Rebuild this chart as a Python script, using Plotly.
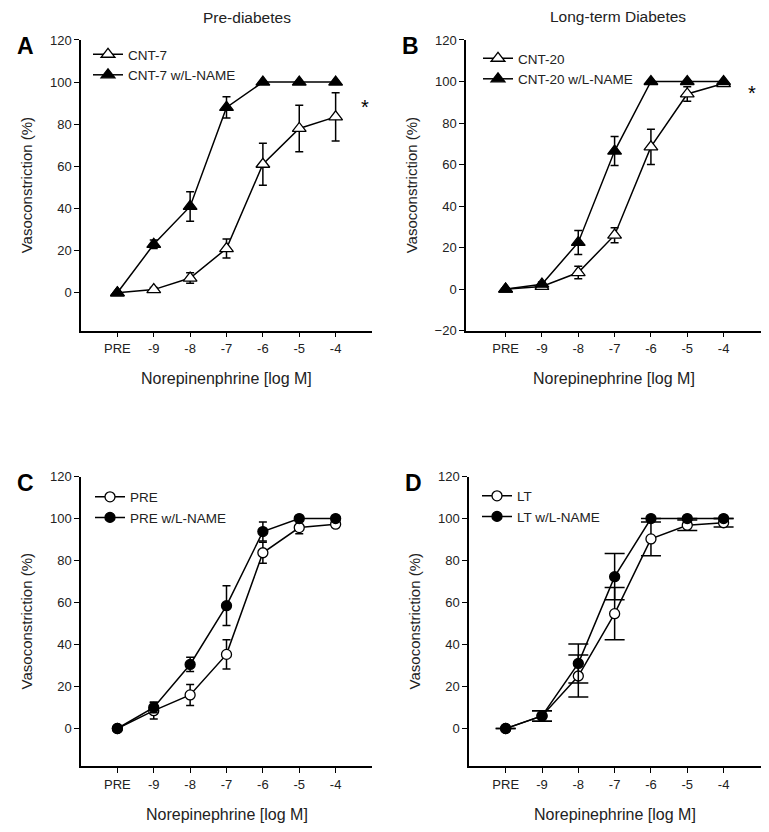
import plotly.graph_objects as go

conc = ["PRE", "-9", "-8", "-7", "-6", "-5", "-4"]

# A: pre-diabetes (CNT-7)
cnt7 = [0, 1.5, 7, 21, 61, 78, 83.5]
cnt7_err = [0, 1, 2.5, 4.5, 10, 11, 11.5]
cnt7_lname = [0, 23, 41, 88, 100, 100, 100]
cnt7_lname_err = [0, 2, 7, 5, 0, 0, 0]

# B: long-term diabetes (CNT-20)
cnt20 = [0, 1.3, 8, 26, 68.5, 94, 99]
cnt20_err = [0, 1, 3, 3.6, 8.5, 3.5, 1]
cnt20_lname = [0, 2.4, 22.5, 66.5, 100, 100, 100]
cnt20_lname_err = [0, 1, 5.8, 7, 0, 0, 0]

# C: PRE
pre = [0, 8.5, 16, 35.3, 83.7, 95.7, 97.3]
pre_err = [0, 4, 5, 7, 5, 3, 1.5]
pre_lname = [0, 10, 30.5, 58.5, 93.8, 100, 100]
pre_lname_err = [0, 2.5, 3.4, 9.5, 4.5, 0, 0]

# D: LT
lt = [0, 6, 25, 54.7, 90.3, 96.8, 98]
lt_err = [0, 2.5, 10, 12.4, 8, 2.5, 2]
lt_lname = [0, 6, 31, 72.3, 100, 100, 100]
lt_lname_err = [0, 2.5, 9.3, 11, 0, 0, 0]

# page offsets the figure a little; positions below are given in window pixels
OFFX, OFFY, SY = 8, 15, 0.983
W, H = 769 - 2 * OFFX, 836
FONT = "Liberation Sans, Arial, sans-serif"


def px(x):
    return (x - OFFX) / W


def py(y):
    return 1 - (y - OFFY) / SY / H


panels = [
    dict(o=cnt7, oe=cnt7_err, on="CNT-7", f=cnt7_lname, fe=cnt7_lname_err, fn="CNT-7 w/L-NAME",
         sym="triangle-up", size=12, cap=4, xd=(81, 372), yd=(40, 331), xr=[-1, 7], yr=[-18, 120],
         yt=[0, 20, 40, 60, 80, 100, 120], leg=(93, 62), xt="Norepinenphrine [log M]"),
    dict(o=cnt20, oe=cnt20_err, on="CNT-20", f=cnt20_lname, fe=cnt20_lname_err, fn="CNT-20 w/L-NAME",
         sym="triangle-up", size=12, cap=4, xd=(466, 761), yd=(40, 331), xr=[-1.09, 7.03], yr=[-20, 120],
         yt=[-20, 0, 20, 40, 60, 80, 100, 120], leg=(483, 66), xt="Norepinephrine [log M]"),
    dict(o=pre, oe=pre_err, on="PRE", f=pre_lname, fe=pre_lname_err, fn="PRE w/L-NAME",
         sym="circle", size=10, cap=4, xd=(81, 372), yd=(477, 767), xr=[-1, 7], yr=[-18, 120],
         yt=[0, 20, 40, 60, 80, 100, 120], leg=(95, 505), xt="Norepinephrine [log M]"),
    dict(o=lt, oe=lt_err, on="LT", f=lt_lname, fe=lt_lname_err, fn="LT w/L-NAME",
         sym="circle", size=10, cap=10, xd=(469, 761), yd=(477, 767), xr=[-1.01, 7.03], yr=[-18, 120],
         yt=[0, 20, 40, 60, 80, 100, 120], leg=(482, 504), xt="Norepinephrine [log M]"),
]

fig = go.Figure()
layout = dict(width=W, height=H, margin=dict(l=0, r=0, t=0, b=0),
              paper_bgcolor="white", plot_bgcolor="white",
              font=dict(family=FONT, size=13, color="#222"))
annotations = []


def label(text, x, y, size, angle=0, xref="paper", yref="paper", color="#222"):
    annotations.append(dict(text=text, x=x, y=y, xref=xref, yref=yref, showarrow=False,
                            xanchor="center", yanchor="middle", textangle=angle,
                            font=dict(family=FONT, size=size, color=color)))


for i, p in enumerate(panels):
    n = "" if i == 0 else str(i + 1)
    xa, ya = "x" + n, "y" + n
    leg = "legend" + n
    for vals, errs, name, fill in [(p["o"], p["oe"], p["on"], "white"), (p["f"], p["fe"], p["fn"], "black")]:
        fig.add_trace(go.Scatter(
            x=conc, y=vals, name=name, mode="lines+markers", xaxis=xa, yaxis=ya, legend=leg,
            line=dict(color="black", width=1.5),
            marker=dict(symbol=p["sym"], size=p["size"], color=fill, line=dict(color="black", width=1.3)),
            error_y=dict(type="data", array=errs, visible=True, color="black", thickness=1.5, width=p["cap"]),
        ))
    axis_common = dict(showline=True, linecolor="black", linewidth=1.5, ticks="outside",
                       ticklen=5, tickwidth=1.3, tickcolor="black", showgrid=False, zeroline=False,
                       tickfont=dict(family=FONT, size=13, color="#222"))
    layout["xaxis" + n] = dict(domain=[px(p["xd"][0]), px(p["xd"][1])], anchor=ya, type="category",
                               categoryorder="array", categoryarray=conc, range=p["xr"], **axis_common)
    layout["yaxis" + n] = dict(domain=[py(p["yd"][1]), py(p["yd"][0])], anchor=xa,
                               range=p["yr"], tickvals=p["yt"], **axis_common)
    # leg = (line start x, middle of the two rows y)
    layout[leg] = dict(x=px(p["leg"][0] - 5), y=py(p["leg"][1] - 23), xanchor="left", yanchor="top",
                       bgcolor="rgba(0,0,0,0)", font=dict(family=FONT, size=13.5, color="#222"),
                       itemwidth=30, tracegroupgap=0)
    xc = (p["xd"][0] + p["xd"][1]) / 2
    label(p["xt"], px(xc), py(p["yd"][1] + 48), 16)
    label("Vasoconstriction (%)", px(p["xd"][0] - 55), py((p["yd"][0] + p["yd"][1]) / 2), 15, angle=-90)
    label("<b>" + "ABCD"[i] + "</b>", px(p["xd"][0] - 56), py(p["yd"][0] + 6), 23, color="black")

# panel headings and significance marks
label("Pre-diabetes", px(247), py(18), 15.5)
label("Long-term Diabetes", px(618), py(17), 15.5)
label("*", 6.8, 88, 20, xref="x", yref="y", color="black")
label("*", 6.78, 94.5, 20, xref="x2", yref="y2", color="black")

layout["annotations"] = annotations
fig.update_layout(**layout)
fig.write_html("out.html")
